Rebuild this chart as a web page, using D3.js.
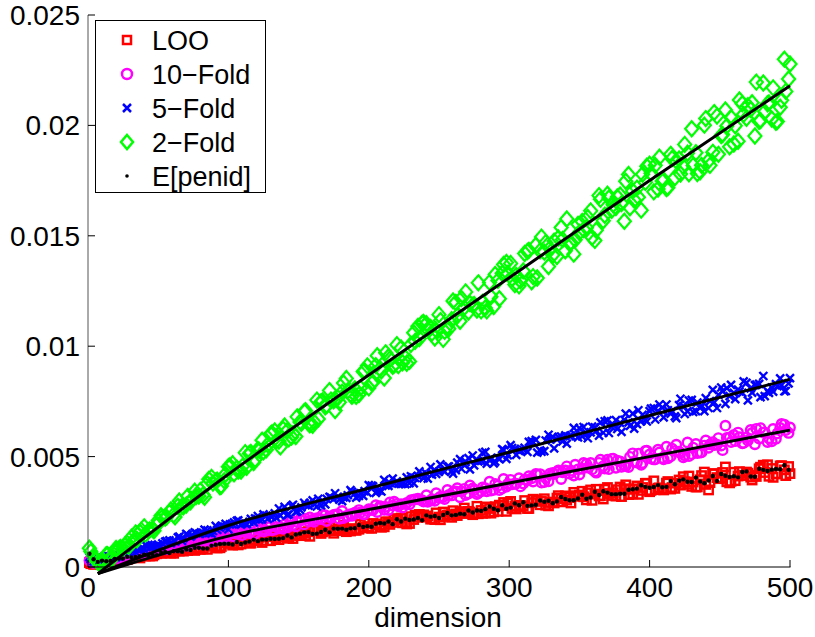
<!DOCTYPE html>
<html>
<head>
<meta charset="utf-8">
<script src="https://cdn.jsdelivr.net/npm/d3@7/dist/d3.min.js"></script>
<style>
  html, body { margin: 0; padding: 0; background: #fff; }
  svg { display: block; }
  text { font-family: "Liberation Sans", Arial, Helvetica, sans-serif; }
</style>
</head>
<body>
<div id="chart"></div>
<script>
// ---------------- data (values in units of 1e-5) ----------------
const dims = [1,4,7,10,13,16,19,22,25,28,31,34,37,40,43,46,49,52,55,58,61,64,67,70,73,76,79,82,85,88,
  91,94,97,100,103,106,109,112,115,118,121,124,127,130,133,136,139,142,145,148,151,154,157,160,163,166,169,172,175,178,
  181,184,187,190,193,196,199,202,205,208,211,214,217,220,223,226,229,232,235,238,241,244,247,250,253,256,259,262,265,268,
  271,274,277,280,283,286,289,292,295,298,301,304,307,310,313,316,319,322,325,328,331,334,337,340,343,346,349,352,355,358,
  361,364,367,370,373,376,379,382,385,388,391,394,397,400,403,406,409,412,415,418,421,424,427,430,433,436,439,442,445,448,
  451,454,457,460,463,466,469,472,475,478,481,484,487,490,493,496,499];
const dimsB = [2,5,8,11,14,17,20,23,26,29,32,35,38,41,44,47,50,53,56,59,62,65,68,71,74,77,80,83,86,89,
  92,95,98,101,104,107,110,113,116,119,122,125,128,131,134,137,140,143,146,149,152,155,158,161,164,167,170,173,176,179,
  182,185,188,191,194,197,200,203,206,209,212,215,218,221,224,227,230,233,236,239,242,245,248,251,254,257,260,263,266,269,
  272,275,278,281,284,287,290,293,296,299,302,305,308,311,314,317,320,323,326,329,332,335,338,341,344,347,350,353,356,359,
  362,365,368,371,374,377,380,383,386,389,392,395,398,401,404,407,410,413,416,419,422,425,428,431,434,437,440,443,446,449,
  452,455,458,461,464,467,470,473,476,479,482,485,488,491,494,497,500];

const looValues = [20,12,27,22,27,32,39,40,31,34, 46,49,41,54,51,50,60,63,71,74,
  62,77,74,85,87,75,86,82,80,103, 89,87,111,107,99,117,104,125,109,120,
  120,111,139,119,138,124,138,135,146,143, 142,154,160,166,171,152,164,180,153,165,
  178,160,163,168,171,180,183,175,195,190, 182,203,202,219,222,202,197,215,225,228,
  226,217,215,226,249,235,225,240,251,267, 252,237,275,256,245,265,250,252,278,252,
  297,276,274,276,265,291,304,282,309,277, 294,312,309,322,315,338,320,343,304,349,
  330,322,308,360,324,321,362,354,328,331, 367,347,379,341,390,357,354,380,353,356,
  394,409,375,365,362,395,430,349,422,405, 402,453,381,429,412,415,430,407,416,445,
  461,463,446,422,458,440,455];
const looValuesB = [15,14,25,33,25,34,35,34,40,48, 52,51,58,50,50,55,67,62,68,63,
  73,72,72,75,88,80,80,94,101,95, 86,93,110,112,105,100,123,121,108,123,
  134,120,140,142,128,142,139,130,129,147, 158,143,139,169,166,159,178,164,167,173,
  189,168,174,166,193,199,177,197,192,180, 205,193,218,213,200,195,228,235,238,236,
  231,218,245,214,229,236,255,233,248,242, 249,243,241,243,272,244,273,280,292,290,
  265,263,279,301,265,307,300,297,280,292, 290,323,295,303,290,323,326,318,336,302,
  352,323,352,333,336,350,319,372,352,354, 329,360,379,347,350,358,349,387,360,380,
  371,386,412,385,363,414,374,382,423,400, 428,386,388,391,432,415,425,394,410,452,
  428,411,406,422,459,414,423];

const tenFoldValues = [30,18,28,31,32,45,48,41,43,61, 62,62,67,71,73,84,76,79,85,89,
  96,89,95,112,106,117,116,122,121,134, 123,129,133,147,153,151,158,164,154,151,
  170,170,165,184,169,175,173,179,209,183, 216,193,207,214,221,217,235,228,236,239,
  254,231,239,246,258,238,253,260,280,276, 259,258,278,286,285,285,284,305,309,303,
  325,301,300,313,317,349,324,342,316,354, 333,356,330,343,357,386,349,368,356,364,
  395,377,402,378,393,402,422,421,385,388, 426,430,398,437,423,414,442,445,467,471,
  432,472,457,486,490,449,478,462,453,515, 473,463,526,510,487,531,494,545,501,525,
  522,497,564,511,557,518,550,540,565,554, 550,640,587,598,609,560,587,621,556,582,
  609,566,569,581,630,645,607];
const tenFoldValuesB = [25,22,29,34,42,44,37,40,54,57, 51,65,63,63,74,77,87,91,80,96,
  93,106,109,97,110,107,105,131,117,116, 142,138,131,151,138,161,145,157,158,150,
  180,160,181,166,182,180,193,190,190,204, 211,218,225,205,219,236,208,222,237,218,
  222,229,232,243,247,239,262,258,249,273, 272,293,296,275,269,290,303,306,305,296,
  295,307,334,319,308,326,339,357,342,326, 369,348,336,360,343,346,376,348,399,376,
  374,378,365,396,411,387,418,382,403,423, 421,437,429,456,436,463,419,471,450,442,
  427,486,446,443,491,482,454,457,499,477, 513,471,527,491,488,519,488,492,536,554,
  516,506,502,541,516,519,573,555,552,584, 529,585,566,570,588,562,573,607,626,629,
  610,583,625,605,648,620,632];

const fiveFoldValues = [45,25,38,32,35,46,59,47,69,70, 73,68,78,80,100,90,97,94,115,121,
  120,134,118,150,137,157,150,155,166,151, 186,178,183,170,193,209,192,197,205,202,
  231,216,233,230,243,265,249,236,276,250, 259,291,278,302,274,279,284,318,308,318,
  298,313,348,333,322,322,337,369,336,346, 395,367,400,388,376,375,380,379,413,418,
  423,453,439,432,437,454,434,439,489,462, 493,505,483,481,521,484,469,494,534,490,
  552,535,526,531,521,570,576,528,525,599, 589,578,591,596,593,630,587,592,605,610,
  632,595,608,664,635,665,653,667,655,695, 647,661,666,706,720,707,722,736,695,682,
  733,729,705,757,706,720,706,720,802,720, 813,739,774,789,804,789,834,809,824,829,
  865,797,813,828,854,796,832];
const fiveFoldValuesB = [35,28,29,45,50,41,44,68,69,69, 77,82,84,99,89,94,102,107,117,108,
  116,138,131,145,144,153,151,169,154,163, 168,186,195,193,202,211,197,194,218,220,
  213,238,218,227,224,233,272,238,282,252, 270,280,289,285,309,300,309,315,334,305,
  315,325,340,314,334,344,371,365,343,342, 369,380,379,378,377,406,411,404,433,402,
  400,418,422,465,432,456,423,473,445,476, 442,460,478,517,468,493,477,489,529,506,
  539,508,528,540,567,565,518,522,573,578, 537,588,569,559,595,600,629,634,583,636,
  617,655,660,607,645,625,612,695,639,627, 710,689,659,717,668,736,678,710,706,674,
  762,693,754,702,745,731,765,751,746,780, 795,810,825,760,795,841,755,790,826,769,
  774,789,794,819,824,797,855];

const twoFoldValues = [85,50,22,26,56,41,71,80,84,107, 135,154,157,182,163,171,189,232,222,247,
  236,275,275,281,295,343,321,327,377,406, 389,363,391,454,468,447,435,518,514,473,
  532,574,531,602,616,570,624,617,589,591, 657,704,651,642,756,748,726,799,753,766,
  792,854,781,807,781,885,911,833,912,898, 856,952,909,1007,992,948,931,1061,1090,1104,
  1102,1085,1037,1143,1031,1091,1120,1198,1113,1175, 1155,1185,1164,1160,1173,1289,1180,1298,1330,1379,
  1375,1279,1273,1341,1429,1292,1457,1432,1426,1361, 1413,1406,1538,1432,1465,1417,1552,1565,1537,1613,
  1479,1682,1568,1688,1615,1628,1685,1566,1778,1703, 1716,1616,1742,1824,1699,1712,1748,1714,1869,1763,
  1848,1813,1874,1985,1876,1790,2001,1840,1878,2042, 1954,2070,1903,1916,1928,2098,2032,2072,1952,2018,
  2192,2098,2029,2014,2082,2300,2210];
const twoFoldValuesB = [70,35,18,27,56,37,84,89,98,92, 115,123,167,149,168,164,211,225,226,258,
  227,299,273,320,306,319,347,316,397,380, 393,367,420,458,422,435,456,452,519,487,
  528,522,554,607,571,544,639,580,604,680, 651,708,644,657,670,752,731,756,709,746,
  833,797,773,773,811,889,811,837,957,889, 970,942,914,912,925,923,1008,1022,1035,1108,
  1076,1059,1072,1116,1067,1079,1205,1137,1216,1246, 1193,1189,1287,1198,1160,1224,1325,1215,1370,1330,
  1307,1320,1296,1420,1434,1315,1309,1494,1469,1443, 1476,1490,1483,1576,1469,1482,1515,1528,1583,1492,
  1525,1665,1593,1671,1641,1676,1646,1747,1627,1662, 1675,1779,1815,1783,1819,1856,1753,1718,1850,1839,
  1780,1914,1781,1818,1782,1819,2031,1819,2058,1869, 1959,1997,2036,1998,2115,2050,2089,2103,2196,2022,
  2062,2102,2170,2018,2114,2154,2278];

const penidValues = [60,35,23,29,26,27,37,38,38,46, 43,46,49,56,51,55,54,65,68,63,
  71,71,69,79,77,87,87,84,84,97, 101,104,105,105,102,113,104,111,115,124,
  117,124,124,128,127,128,131,143,134,147, 151,157,158,150,151,159,169,157,174,173,
  174,169,175,176,190,181,185,182,196,199, 197,206,194,216,206,219,213,215,222,212,
  234,228,231,222,236,245,234,236,241,239, 256,247,256,254,262,274,264,257,280,264,
  269,288,280,293,277,279,282,301,295,300, 289,297,317,308,302,302,310,327,309,315,
  341,326,343,337,330,330,332,332,350,352, 355,370,363,359,362,371,361,363,389,375,
  391,397,386,385,405,387,379,392,412,390, 421,413,408,411,406,430,433,410,409,445,
  440,435,441,444,443,461,440];

// fitted lines (dimension, value in 1e-5)
const fitDims = [7, 100, 200, 300, 400, 500];
const fitTwoFold = [-30, 420, 870, 1310, 1750, 2180];
const fitFiveFold = [-30, 188, 357, 520, 686, 850];
const fitTenFold = [-30, 140, 260, 380, 500, 620];

const xTicks = [0, 100, 200, 300, 400, 500];
const yTicks = [0, 500, 1000, 1500, 2000, 2500];
const yTickLabels = ["0", "0.005", "0.01", "0.015", "0.02", "0.025"];
const legendLabels = ["LOO", "10\u2212Fold", "5\u2212Fold", "2\u2212Fold", "E[penid]"];
const xLabel = "dimension";

// ---------------- drawing ----------------
const W = 815, H = 637;
const svg = d3.select("#chart").append("svg").attr("width", W).attr("height", H);

const x = d3.scaleLinear().domain([0, 500]).range([88, 790]);
const y = d3.scaleLinear().domain([0, 2500]).range([567, 15]);

const plot = svg.append("g");
function pts(vals, valsB) {
  const a = dims.map((d, i) => [d, vals[i]]);
  if (valsB) dimsB.forEach((d, i) => a.push([d, valsB[i]]));
  return a.sort((p, q) => p[0] - q[0]);
}

// LOO - red squares
plot.append("g").selectAll("rect").data(pts(looValues, looValuesB)).join("rect")
  .attr("x", d => x(d[0]) - 4.2).attr("y", d => y(d[1]) - 4.2)
  .attr("width", 8.4).attr("height", 8.4)
  .attr("fill", "none").attr("stroke", "#ff0000").attr("stroke-width", 2.4);

// 10-Fold - magenta circles
plot.append("g").selectAll("circle").data(pts(tenFoldValues, tenFoldValuesB)).join("circle")
  .attr("cx", d => x(d[0])).attr("cy", d => y(d[1])).attr("r", 4.7)
  .attr("fill", "none").attr("stroke", "#ff00ff").attr("stroke-width", 2.4);

// 5-Fold - blue crosses
plot.append("g").selectAll("path").data(pts(fiveFoldValues, fiveFoldValuesB)).join("path")
  .attr("d", d => {
    const cx = x(d[0]), cy = y(d[1]), s = 4;
    return `M${cx - s},${cy - s}L${cx + s},${cy + s}M${cx - s},${cy + s}L${cx + s},${cy - s}`;
  })
  .attr("fill", "none").attr("stroke", "#0000ff").attr("stroke-width", 2.4);

// 2-Fold - green diamonds
plot.append("g").selectAll("path").data(pts(twoFoldValues, twoFoldValuesB)).join("path")
  .attr("d", d => {
    const cx = x(d[0]), cy = y(d[1]);
    return `M${cx},${cy - 7.5}L${cx + 6.5},${cy}L${cx},${cy + 7.5}L${cx - 6.5},${cy}Z`;
  })
  .attr("fill", "none").attr("stroke", "#00ff00").attr("stroke-width", 2.2);

// E[penid] - black dots
plot.append("g").selectAll("circle").data(pts(penidValues)).join("circle")
  .attr("cx", d => x(d[0])).attr("cy", d => y(d[1])).attr("r", 2.2)
  .attr("fill", "#000");

// fitted lines
const line = d3.line().x(d => x(d[0])).y(d => y(d[1])).curve(d3.curveMonotoneX);
[fitTwoFold, fitFiveFold, fitTenFold].forEach(vals => {
  plot.append("path").datum(fitDims.map((d, i) => [d, vals[i]]))
    .attr("d", line).attr("fill", "none").attr("stroke", "#000").attr("stroke-width", 3);
});

// axes
const axes = svg.append("g");
axes.append("line").attr("x1", 88).attr("x2", 88).attr("y1", 15).attr("y2", 567)
  .attr("stroke", "#555").attr("stroke-width", 1);
axes.append("line").attr("x1", 88).attr("x2", 790.5).attr("y1", 567).attr("y2", 567)
  .attr("stroke", "#000").attr("stroke-width", 1);

yTicks.forEach((t, i) => {
  axes.append("line").attr("x1", 88).attr("x2", 95).attr("y1", y(t)).attr("y2", y(t))
    .attr("stroke", "#000").attr("stroke-width", 1);
  axes.append("text").attr("x", 80).attr("y", y(t)).attr("dy", "0.36em")
    .attr("text-anchor", "end").attr("font-size", 28).text(yTickLabels[i]);
});
xTicks.forEach(t => {
  axes.append("line").attr("x1", x(t)).attr("x2", x(t)).attr("y1", 567).attr("y2", 560)
    .attr("stroke", "#000").attr("stroke-width", 1);
  axes.append("text").attr("x", x(t)).attr("y", 597)
    .attr("text-anchor", "middle").attr("font-size", 28).text(t);
});
axes.append("text").attr("x", 438).attr("y", 627).attr("text-anchor", "middle")
  .attr("font-size", 28).text(xLabel);

// legend
const lg = svg.append("g");
lg.append("rect").attr("x", 95.5).attr("y", 20.5).attr("width", 170).attr("height", 172)
  .attr("fill", "#fff").attr("stroke", "#000").attr("stroke-width", 1);
const rowY = [40, 74, 108, 142, 176];
const mx = 127;
lg.append("rect").attr("x", mx - 4).attr("y", rowY[0] - 4).attr("width", 8).attr("height", 8)
  .attr("fill", "none").attr("stroke", "#ff0000").attr("stroke-width", 2.5);
lg.append("circle").attr("cx", mx).attr("cy", rowY[1]).attr("r", 5)
  .attr("fill", "none").attr("stroke", "#ff00ff").attr("stroke-width", 2.5);
lg.append("path").attr("d", `M${mx - 4},${rowY[2] - 4}L${mx + 4},${rowY[2] + 4}M${mx - 4},${rowY[2] + 4}L${mx + 4},${rowY[2] - 4}`)
  .attr("stroke", "#0000ff").attr("stroke-width", 2.5);
lg.append("path").attr("d", `M${mx},${rowY[3] - 7}L${mx + 6},${rowY[3]}L${mx},${rowY[3] + 7}L${mx - 6},${rowY[3]}Z`)
  .attr("fill", "none").attr("stroke", "#00ff00").attr("stroke-width", 2.5);
lg.append("circle").attr("cx", mx).attr("cy", rowY[4]).attr("r", 1.8).attr("fill", "#000");
legendLabels.forEach((l, i) => {
  lg.append("text").attr("x", 152).attr("y", rowY[i]).attr("dy", "0.36em")
    .attr("font-size", 27).text(l);
});
</script>
</body>
</html>
